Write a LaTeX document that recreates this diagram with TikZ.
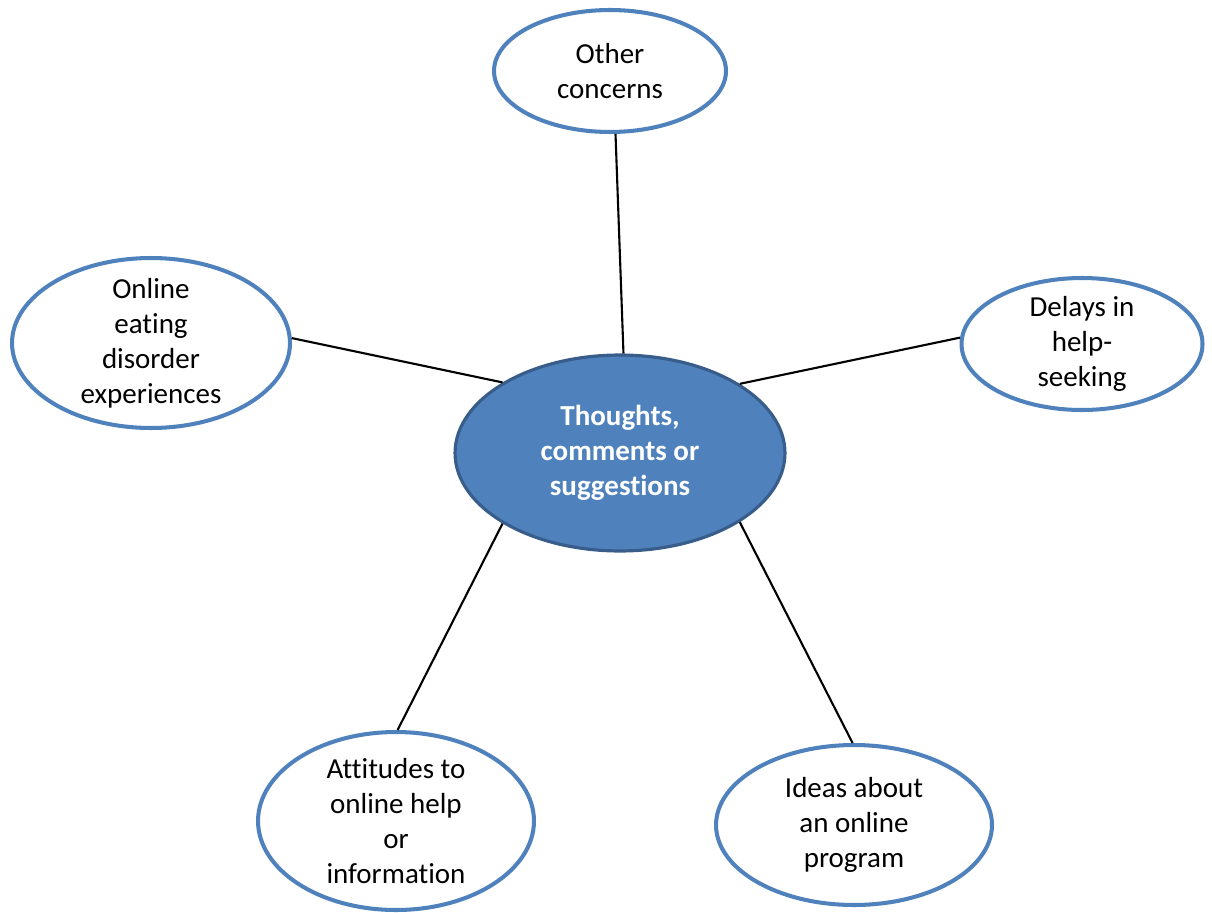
\documentclass[tikz,border=0pt]{standalone}
\usepackage{fontspec}
\setmainfont{Carlito}[Ligatures=NoCommon]
\usetikzlibrary{shapes.geometric}
\definecolor{topicblue}{HTML}{4F81BD}
\definecolor{hubedge}{HTML}{385D8A}
\tikzset{topic/.style={ellipse,draw=topicblue,line width=2.3pt,fill=white,align=center,inner sep=-0.8cm,font=\fontsize{16.5}{20}\selectfont},hub/.style={ellipse,draw=hubedge,line width=1.8pt,fill=topicblue,text=white,align=center,inner sep=-0.8cm,font=\bfseries\fontsize{16.5}{20}\selectfont},link/.style={line width=1.2pt}}

\begin{document}
\begin{tikzpicture}[x=0.02cm,y=-0.02cm]
\useasboundingbox (0,0) rectangle (1212,912);
\node[hub,minimum width=6.6cm,minimum height=3.92cm] (hub) at (620,453)
 {Thoughts,\\comments or\\suggestions};
\node[topic,minimum width=4.64cm,minimum height=2.44cm] (other) at (610,71)
 {Other\\concerns};
\node[topic,minimum width=5.56cm,minimum height=3.4cm] (online) at (151,343)
 {Online\\eating\\disorder\\experiences};
\node[topic,minimum width=4.82cm,minimum height=2.64cm] (delays) at (1082,344)
 {Delays in\\help-\\seeking};
\node[topic,minimum width=5.52cm,minimum height=3.56cm] (attitudes) at (396,821)
 {Attitudes to\\online help\\or\\information};
\node[topic,minimum width=5.52cm,minimum height=3.2cm] (ideas) at (854,825)
 {Ideas about\\an online\\program};
\draw[link] (other.-85) -- (hub.88);
\draw[link] (online.2) -- (hub.149);
\draw[link] (delays.177) -- (hub.30);
\draw[link] (attitudes.89) -- (hub.211);
\draw[link] (ideas.91) -- (hub.330);
\end{tikzpicture}
\end{document}
